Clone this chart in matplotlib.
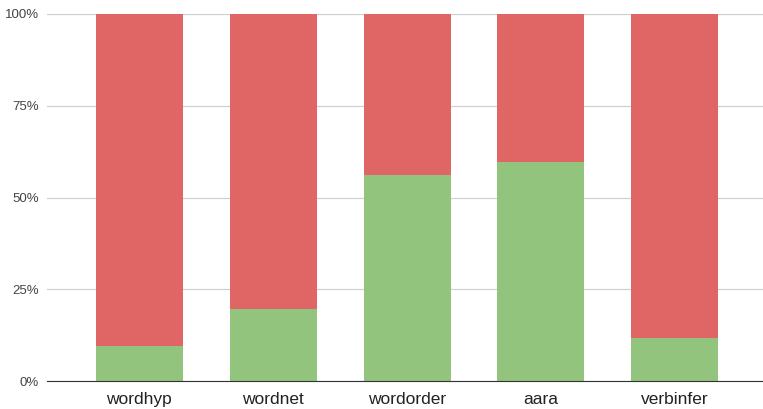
import matplotlib.pyplot as plt
from matplotlib.ticker import FuncFormatter

# Dados do gráfico
categorias = ["wordhyp", "wordnet", "wordorder", "aara", "verbinfer"]
acertos = [9.5, 19.5, 56.0, 59.8, 11.8]  # %
erros = [100 - a for a in acertos]

plt.rcParams['font.family'] = ['Liberation Sans', 'DejaVu Sans']

fig = plt.figure(figsize=(7.63, 4.09), dpi=100)
ax = fig.add_axes([47 / 763, 1 - 381 / 409, (763 - 47) / 763, (381 - 14) / 409])

x = range(len(categorias))
ax.bar(x, acertos, width=0.65, color='#93c47d', zorder=3)
ax.bar(x, erros, width=0.65, bottom=acertos, color='#e06666', zorder=3)

ax.set_ylim(0, 100)
ax.set_xlim(-0.69, 4.66)
ax.set_yticks([0, 25, 50, 75, 100])
ax.yaxis.set_major_formatter(FuncFormatter(lambda v, p: f"{int(v)}%"))
ax.set_xticks(list(x))
ax.set_xticklabels(categorias, fontsize=12.5, color='#222222')
ax.tick_params(axis='y', labelsize=9.5, colors='#444444', length=0, pad=6)
ax.tick_params(axis='x', length=0, pad=8)

ax.grid(axis='y', color='#d0d0d0', linewidth=0.9, zorder=0)
for s in ['top', 'right', 'left']:
    ax.spines[s].set_visible(False)
ax.spines['bottom'].set_color('#333333')
ax.spines['bottom'].set_zorder(4)

fig.savefig("out.png", dpi=100)
